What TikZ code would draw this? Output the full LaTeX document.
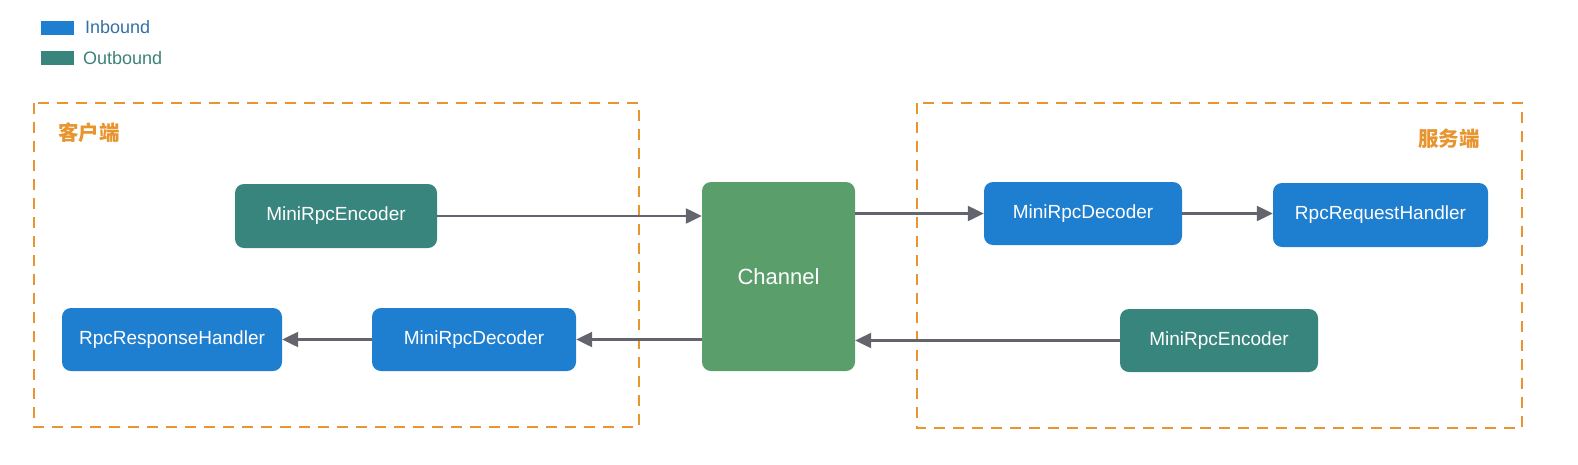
\documentclass[tikz,border=0pt]{standalone}
\usepackage{fontspec}
\setmainfont{Liberation Sans}
\newfontfamily\cjk{Noto Sans CJK SC}
\usetikzlibrary{arrows.meta}
\definecolor{inblue}{RGB}{30,126,207}
\definecolor{outteal}{RGB}{55,133,125}
\definecolor{changreen}{RGB}{90,158,108}
\definecolor{dashorange}{RGB}{232,149,47}
\definecolor{arrowgray}{RGB}{100,100,110}
\definecolor{legblue}{RGB}{52,112,168}
\definecolor{legteal}{RGB}{60,130,120}
\tikzset{
  boxnode/.style={rounded corners=9pt, text=white, font=\fontsize{19}{22}\selectfont, inner sep=0pt},
  inbox/.style={boxnode, fill=inblue},
  outbox/.style={boxnode, fill=outteal},
  chanbox/.style={boxnode, fill=changreen, font=\fontsize{22}{26}\selectfont},
  region/.style={draw=dashorange, line width=2.4pt, dash pattern=on 11pt off 8pt},
  flow/.style={draw=arrowgray, line width=2.3pt, -{Triangle[length=16pt,width=15pt]}},
  legsw/.style={inner sep=0pt, minimum width=33pt, minimum height=14pt},
  legtext/.style={anchor=west, font=\fontsize{18}{21}\selectfont, inner sep=0pt},
  cjklabel/.style={text=dashorange, font=\cjk\bfseries\fontsize{20.5}{24}\selectfont, inner sep=0pt}
}
\begin{document}
\begin{tikzpicture}[x=1pt,y=-1pt]
\useasboundingbox (0,0) rectangle (1578,464);
% legend
\node[legsw, fill=inblue] (lin) at (57.5,27.5) {};
\node[legtext, text=legblue] (linl) at (85,27.5) {Inbound};
\node[legsw, fill=outteal] (lout) at (57.5,58) {};
\node[legtext, text=legteal] (loutl) at (83,58) {Outbound};
% regions
\draw[region] (34,103) rectangle (639,427);
\draw[region] (917,103) rectangle (1522,428);
\node[cjklabel, anchor=west] (client) at (58,133) {客户端};
\node[cjklabel, anchor=east] (server) at (1480,139) {服务端};
% nodes
\node[outbox, minimum width=202pt, minimum height=64pt] (enc1) at (336,216) {MiniRpcEncoder};
\node[chanbox, minimum width=153pt, minimum height=189pt] (ch) at (778.5,276.5) {Channel};
\node[inbox, minimum width=198pt, minimum height=63pt] (dec2) at (1083,213.5) {MiniRpcDecoder};
\node[inbox, minimum width=215pt, minimum height=64pt] (req) at (1380.5,215) {RpcRequestHandler};
\node[outbox, minimum width=198pt, minimum height=63pt] (enc2) at (1219,340.5) {MiniRpcEncoder};
\node[inbox, minimum width=220pt, minimum height=63pt] (resp) at (172,339.5) {RpcResponseHandler};
\node[inbox, minimum width=204pt, minimum height=63pt] (dec1) at (474,339.5) {MiniRpcDecoder};
% connectors
\draw[flow] (enc1.east) -- (enc1.east -| ch.west);
\draw[flow] (ch.east |- dec2.west) -- (dec2.west);
\draw[flow] (dec2.east) -- (dec2.east -| req.west);
\draw[flow] (enc2.west) -- (enc2.west -| ch.east);
\draw[flow] (ch.west |- dec1.east) -- (dec1.east);
\draw[flow] (dec1.west) -- (dec1.west -| resp.east);
\end{tikzpicture}
\end{document}
